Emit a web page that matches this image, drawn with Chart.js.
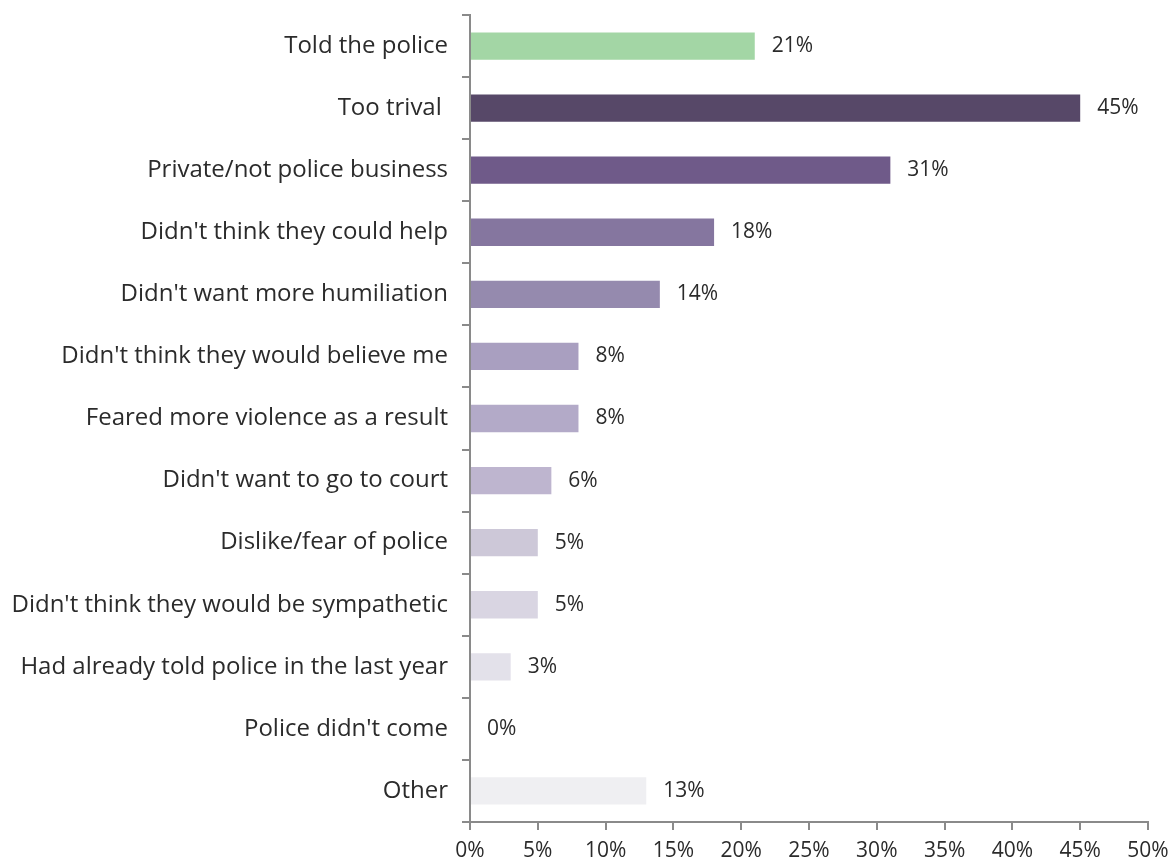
<!DOCTYPE html>
<html>
<head>
<meta charset="utf-8">
<script src="https://cdn.jsdelivr.net/npm/chart.js@4"></script>
<style>
  html, body { margin: 0; padding: 0; background: #fff; }
  #wrap { width: 1172px; height: 862px; }
</style>
</head>
<body>
<div id="wrap"><canvas id="myChart" width="1172" height="862"></canvas></div>
<script>
const reasons = [
    'Told the police',
    'Too trival ',
    'Private/not police business',
    "Didn't think they could help",
    "Didn't want more humiliation",
    "Didn't think they would believe me",
    'Feared more violence as a result',
    "Didn't want to go to court",
    'Dislike/fear of police',
    "Didn't think they would be sympathetic",
    'Had already told police in the last year',
    "Police didn't come",
    'Other'
];
const shares = [21, 45, 31, 18, 14, 8, 8, 6, 5, 5, 3, 0, 13];
const barColors = [
    '#a3d6a5', '#574868', '#6f5a89', '#85769f', '#958aae', '#a99fc0',
    '#b3aac8', '#beb5cf', '#cdc8d8', '#d9d5e2', '#e3e1ea', '#e9e8ee', '#efeff2'
];
const xTicks = [0, 5, 10, 15, 20, 25, 30, 35, 40, 45, 50];

const FONT = "'Open Sans', 'Noto Sans', sans-serif";

// draws the "21%" style labels after each bar
const valueLabels = {
    id: 'valueLabels',
    afterDatasetsDraw(chart) {
        const c = chart.ctx;
        const meta = chart.getDatasetMeta(0);
        c.save();
        c.font = '21px ' + FONT;
        c.fillStyle = '#2b2b2b';
        c.textBaseline = 'middle';
        c.textAlign = 'left';
        meta.data.forEach((bar, i) => {
            c.fillText(shares[i] + '%', bar.x + 17, bar.y);
        });
        c.restore();
    }
};

const ctx = document.getElementById('myChart').getContext('2d');
const chart = new Chart(ctx, {
    type: 'bar',
    data: {
        labels: reasons,
        datasets: [{
            data: shares,
            backgroundColor: barColors,
            borderWidth: 0,
            barPercentage: 0.88,
            categoryPercentage: 0.5
        }]
    },
    options: {
        indexAxis: 'y',
        responsive: false,
        animation: false,
        layout: { padding: { top: 15, right: 24, left: 0, bottom: 0 } },
        plugins: {
            legend: { display: false },
            tooltip: { enabled: false }
        },
        scales: {
            x: {
                min: 0,
                max: 50,
                afterBuildTicks: scale => { scale.ticks = xTicks.map(v => ({ value: v })); },
                afterFit: scale => {
                    scale.height = 40;
                    scale.paddingLeft = 0;
                    scale.paddingRight = 0;
                },
                border: { color: '#8a8a8a', width: 2 },
                grid: { drawOnChartArea: false, tickLength: 8, color: '#8a8a8a', lineWidth: 2 },
                ticks: {
                    padding: 8,
                    color: '#2b2b2b',
                    font: { family: FONT, size: 21 },
                    callback: v => v + '%'
                }
            },
            y: {
                afterFit: scale => {
                    scale.width = 470;
                    scale.paddingTop = 0;
                    scale.paddingBottom = 0;
                },
                border: { color: '#8a8a8a', width: 2 },
                grid: { drawOnChartArea: false, tickLength: 8, color: '#8a8a8a', lineWidth: 2, offset: true },
                ticks: {
                    padding: 14,
                    color: '#2b2b2b',
                    font: { family: FONT, size: 24 }
                }
            }
        }
    },
    plugins: [valueLabels]
});
</script>
</body>
</html>
